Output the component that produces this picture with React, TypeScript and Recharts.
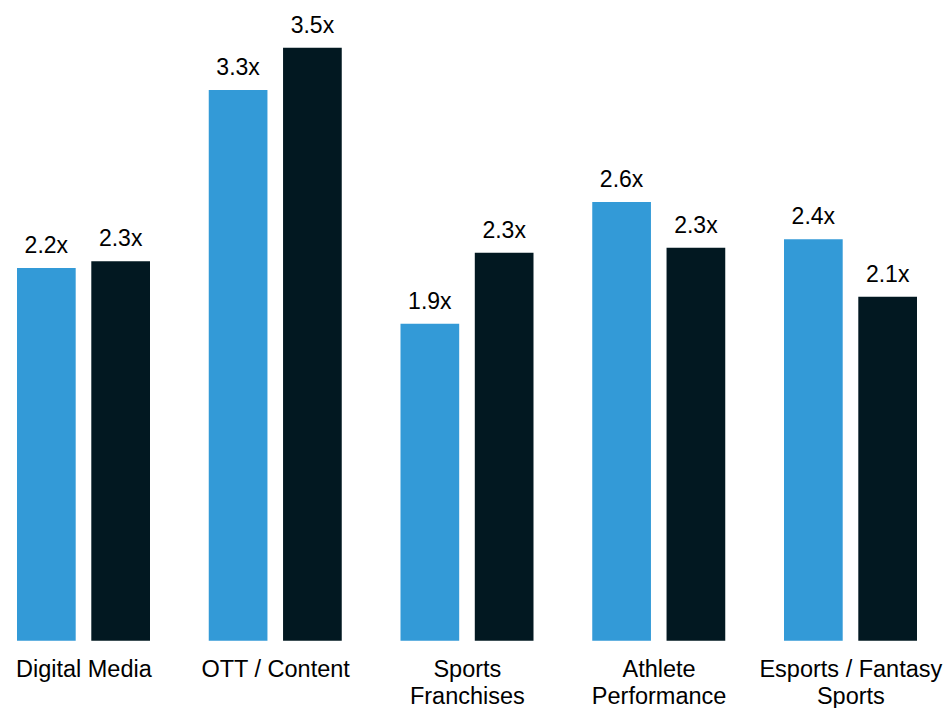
import { BarChart, Bar, XAxis, YAxis, LabelList } from 'recharts'

// segment names (\n = line break in the tick)
const categories = [
  'Digital Media',
  'OTT / Content',
  'Sports\nFranchises',
  'Athlete\nPerformance',
  'Esports / Fantasy\nSports',
]

// bar heights, labels as printed
const blueValues = [2.2, 3.25, 1.87, 2.59, 2.37]
const darkValues = [2.24, 3.5, 2.29, 2.32, 2.03]
const blueLabels = ['2.2x', '3.3x', '1.9x', '2.6x', '2.4x']
const darkLabels = ['2.3x', '3.5x', '2.3x', '2.3x', '2.1x']

const BLUE = '#339ad7'
const DARK = '#021821'
const FONT = 'Arial, "Liberation Sans", sans-serif'

const chartData = categories.map((name, i) => ({
  name,
  blue: blueValues[i],
  dark: darkValues[i],
  blueLabel: blueLabels[i],
  darkLabel: darkLabels[i],
}))

const CategoryTick = ({ x, y, payload }: any) => {
  const lines = String(payload.value).split('\n')
  return (
    <text x={x} y={y} textAnchor="middle" fill="#000" fontFamily={FONT} fontSize={23.5}>
      {lines.map((line, i) => (
        <tspan key={i} x={x} dy={i === 0 ? 36.3 : 27}>
          {line}
        </tspan>
      ))}
    </text>
  )
}

export default function App() {
  return (
    <div style={{ position: 'absolute', left: -12.5, top: 0 }}>
      <BarChart
        width={958.75}
        height={708}
        data={chartData}
        margin={{ top: 47.7, right: 0, bottom: 7.3, left: 0 }}
        barSize={58.7}
        barGap={15.6}
      >
        <XAxis
          dataKey="name"
          axisLine={false}
          tickLine={false}
          tickSize={0}
          tickMargin={0}
          height={60}
          interval={0}
          tick={<CategoryTick />}
        />
        <YAxis hide domain={[0, 3.5]} />
        <Bar dataKey="blue" fill={BLUE} isAnimationActive={false}>
          <LabelList dataKey="blueLabel" position="top" offset={15} fill="#000" fontFamily={FONT} fontSize={23} />
        </Bar>
        <Bar dataKey="dark" fill={DARK} isAnimationActive={false}>
          <LabelList dataKey="darkLabel" position="top" offset={15} fill="#000" fontFamily={FONT} fontSize={23} />
        </Bar>
      </BarChart>
    </div>
  )
}
